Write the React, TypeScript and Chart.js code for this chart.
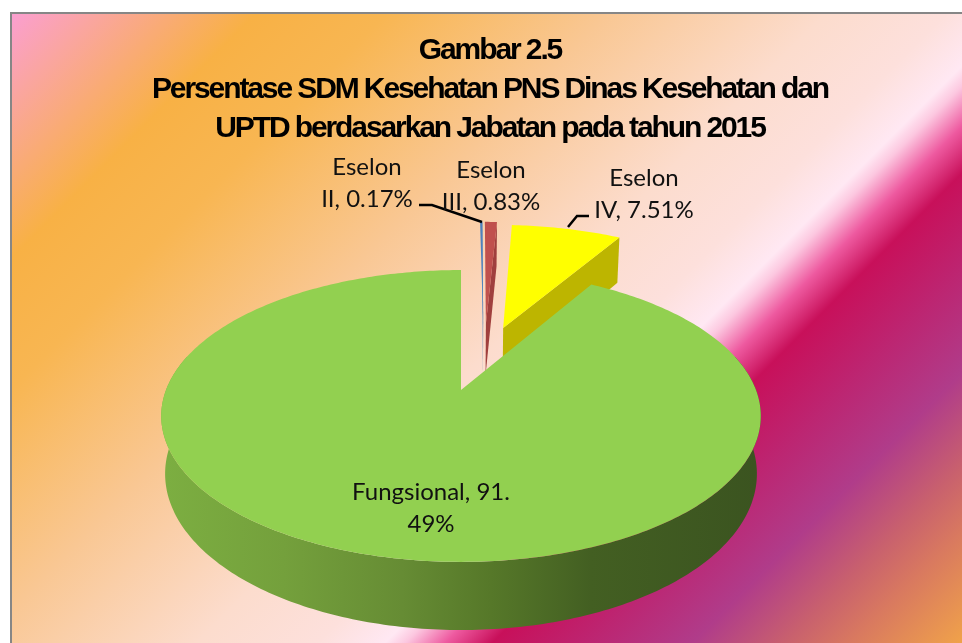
import React, { useEffect, useRef } from "react";
import { Chart, registerables } from "chart.js";

Chart.register(...registerables);

const categories = ["Eselon II", "Eselon III", "Eselon IV", "Fungsional"];
const seriesValues = [0.17, 0.83, 7.51, 91.49];
const titleLines = [
  "Gambar 2.5",
  "Persentase SDM Kesehatan PNS Dinas Kesehatan dan",
  "UPTD berdasarkan Jabatan pada tahun 2015",
];
const topColors = ["#4f81bd", "#c0504d", "#ffff00", "#92d050"];
const wallColors = ["#5a86b8", "#a03f3d", "#bdb500", "#5f8a33"];
const explodeX = [0.082, 0.092, 0.155, 0];
const explodeY = [-0.51, -0.51, -0.475, 0];
const labelLines = [
  { lines: ["Eselon", "II, 0.17%"], x: 367, y: 167 },
  { lines: ["Eselon", "III, 0.83%"], x: 491, y: 170 },
  { lines: ["Eselon", "IV, 7.51%"], x: 644, y: 178 },
  { lines: ["Fungsional, 91.", "49%"], x: 431, y: 492 },
];
const leaderLines = [
  [[419, 205], [432, 205], [482, 222]],
  [[589, 216], [577, 216], [568, 227]],
];
const backgroundStops: [number, string][] = [
  [26, "#fb9fd0"],
  [270, "#f8b145"],
  [400, "#f8b652"],
  [620, "#f9c793"],
  [840, "#fcdccd"],
  [960, "#fde0dc"],
  [1028, "#ffe8f3"],
  [1048, "#fcc8e0"],
  [1088, "#ee5aa0"],
  [1135, "#c8105a"],
  [1335, "#b03c8a"],
  [1426, "#c8606e"],
  [1490, "#d87860"],
  [1605, "#f0a24a"],
];
const wallStops: [number, string][] = [
  [0, "#7cae41"],
  [0.2, "#74a03c"],
  [0.4, "#668c34"],
  [0.55, "#567829"],
  [0.72, "#435f22"],
  [1, "#3b5420"],
];

// Perspective projection of the unit pie disc onto the page.
const X0 = 461;
const Y0 = 390;
const AX = 295;
const AY = 141.3;
const PERSP = 0.178;
const DEPTH = 56;

function project(px: number, py: number, low: boolean): [number, number] {
  const w = 1 - PERSP * py;
  const shrink = low ? 0.987 : 1;
  return [
    X0 + (AX * px * shrink) / w,
    Y0 + (AY * py + (low ? DEPTH : 0)) / w,
  ];
}

function fillPoly(ctx: CanvasRenderingContext2D, pts: [number, number][], fill: string | CanvasGradient) {
  ctx.beginPath();
  pts.forEach((p, i) => (i ? ctx.lineTo(p[0], p[1]) : ctx.moveTo(p[0], p[1])));
  ctx.closePath();
  ctx.fillStyle = fill;
  ctx.fill();
}

const piePlugin = {
  id: "pie3d",
  beforeDraw(chart: any) {
    const { ctx, width, height } = chart;
    ctx.save();
    const s0 = backgroundStops[0][0];
    const s1 = backgroundStops[backgroundStops.length - 1][0];
    const g = ctx.createLinearGradient(s0 / 2, s0 / 2, s1 / 2, s1 / 2);
    backgroundStops.forEach(([s, c]) => g.addColorStop((s - s0) / (s1 - s0), c));
    ctx.fillStyle = g;
    ctx.fillRect(11, 13, width - 11, height - 13);
    ctx.strokeStyle = "#868686";
    ctx.lineWidth = 2;
    ctx.beginPath();
    ctx.moveTo(11, height);
    ctx.lineTo(11, 13);
    ctx.lineTo(width, 13);
    ctx.stroke();
    ctx.restore();
    ctx.letterSpacing = "-2.1px";
  },
  beforeDatasetsDraw(chart: any) {
    const { ctx } = chart;
    const arcs = chart.getDatasetMeta(0).data;
    ctx.save();
    ctx.letterSpacing = "0px";
    arcs.forEach((arc: any, i: number) => {
      const ex = explodeX[i];
      const ey = explodeY[i];
      const a0 = arc.startAngle;
      const a1 = arc.endAngle;
      const n = Math.max(4, Math.ceil(((a1 - a0) / (2 * Math.PI)) * 400));
      const top: [number, number][] = [];
      const rim: { a: number; t: [number, number]; b: [number, number] }[] = [];
      for (let k = 0; k <= n; k++) {
        const a = a0 + ((a1 - a0) * k) / n;
        const px = Math.cos(a) + ex;
        const py = Math.sin(a) + ey;
        const t = project(px, py, false);
        top.push(t);
        rim.push({ a, t, b: project(px, py, true) });
      }
      const apexTop = project(ex, ey, false);
      const apexLow = project(ex, ey, true);
      if (i === arcs.length - 1) {
        const wall = ctx.createLinearGradient(X0 - AX, 0, X0 + AX, 0);
        wallStops.forEach(([s, c]) => wall.addColorStop(s, c));
        const front = rim.filter((r) => Math.sin(r.a) > -0.25);
        fillPoly(ctx, [...front.map((r) => r.t), ...front.map((r) => r.b).reverse()], wall);
      } else {
        const end = rim[rim.length - 1];
        fillPoly(ctx, [apexTop, end.t, end.b, apexLow], wallColors[i]);
      }
      fillPoly(ctx, [apexTop, ...top], topColors[i]);
    });
    ctx.restore();
    return false;
  },
  afterDraw(chart: any) {
    const { ctx } = chart;
    ctx.save();
    ctx.letterSpacing = "0px";
    ctx.strokeStyle = "#000000";
    ctx.lineWidth = 2.5;
    leaderLines.forEach((line) => {
      ctx.beginPath();
      line.forEach((p, i) => (i ? ctx.lineTo(p[0], p[1]) : ctx.moveTo(p[0], p[1])));
      ctx.stroke();
    });
    ctx.fillStyle = "#111111";
    ctx.font = "24px Lato, 'Open Sans', sans-serif";
    ctx.textAlign = "center";
    ctx.textBaseline = "middle";
    labelLines.forEach((l) => {
      l.lines.forEach((text, i) => ctx.fillText(text, l.x, l.y + i * 32.5));
    });
    ctx.restore();
  },
};

export default function App() {
  const ref = useRef<HTMLCanvasElement>(null);
  useEffect(() => {
    const chart = new Chart(ref.current as HTMLCanvasElement, {
      type: "pie",
      data: {
        labels: categories,
        datasets: [{ data: seriesValues, backgroundColor: topColors, borderWidth: 0 }],
      },
      options: {
        animation: false,
        responsive: false,
        layout: { padding: { left: 18, top: 31 } },
        plugins: {
          legend: { display: false },
          tooltip: { enabled: false },
          title: {
            display: true,
            text: titleLines,
            color: "#000000",
            font: { family: "'Liberation Sans', Arial, sans-serif", size: 30, weight: "bold", lineHeight: 1.3 },
            padding: { top: 0, bottom: 0 },
          },
        },
      },
      plugins: [piePlugin],
    } as any);
    return () => chart.destroy();
  }, []);
  return (
    <div style={{ position: "absolute", left: 0, top: 0, width: 962, height: 643, overflow: "hidden" }}>
      <canvas ref={ref} width={962} height={643} style={{ display: "block" }} />
    </div>
  );
}
